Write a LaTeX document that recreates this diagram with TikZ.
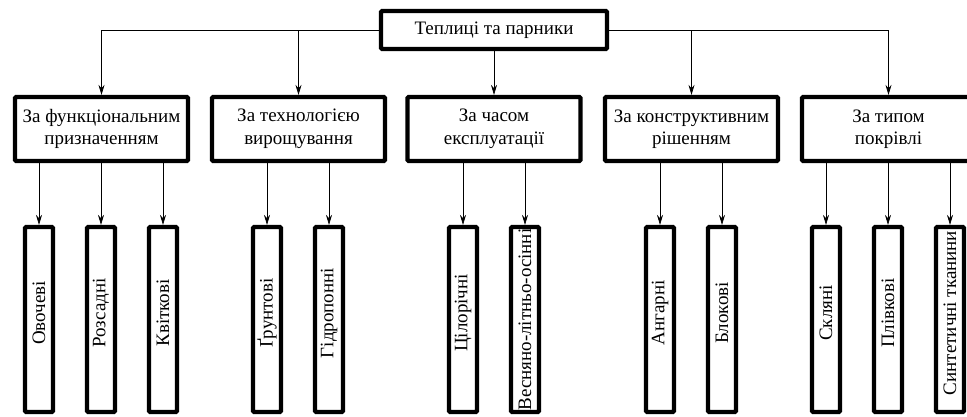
\documentclass[tikz,border=0pt]{standalone}
\usepackage{fontspec}
\setmainfont{Liberation Serif}
\usetikzlibrary{arrows.meta}
\newcommand\lifttxt[1]{\hspace*{13pt}#1}
\begin{document}
\begin{tikzpicture}[x=1pt,y=1pt,
  txt/.style={font=\fontsize{19}{22.5}\selectfont},
  topbox/.style={draw, line width=4.2pt, rounded corners=1pt, align=center, inner sep=0pt, minimum width=226pt, minimum height=38pt, txt},
  catbox/.style={draw, line width=4.2pt, rounded corners=1pt, align=center, inner sep=0pt, minimum width=173pt, minimum height=64pt, txt},
  leaf/.style={draw, line width=4.2pt, rounded corners=1pt, rotate=90, inner sep=0pt, minimum width=185pt, minimum height=28pt, txt},
  arr/.style={-{Stealth[length=10pt,width=6pt]}, line width=0.7pt}]
\useasboundingbox (0,0) rectangle (967,-416);
\clip (0,0) rectangle (967,-416);
\fill[white] (0,0) rectangle (967,-416);

\node[topbox] (top) at (494,-30) {Теплиці та парники};

\node[catbox] (c1) at (101.5,-129) {За функціональним\\призначенням};
\node[catbox] (c2) at (298.5,-129) {За технологією\\вирощування};
\node[catbox] (c3) at (494,-129) {За часом\\експлуатації};
\node[catbox] (c4) at (691.5,-129) {За конструктивним\\рішенням};
\node[catbox] (c5) at (888.5,-129) {За типом\\покрівлі};

\node[leaf] (l1) at (39,-319.5) {\lifttxt{Овочеві}};
\node[leaf] (l2) at (101,-319.5) {\lifttxt{Розсадні}};
\node[leaf] (l3) at (163,-319.5) {\lifttxt{Квіткові}};
\node[leaf] (l4) at (267,-319.5) {\lifttxt{Ґрунтові}};
\node[leaf] (l5) at (329,-319.5) {\lifttxt{Гідропонні}};
\node[leaf] (l6) at (463,-319.5) {\lifttxt{Цілорічні}};
\node[leaf] (l7) at (525,-319.5) {Весняно-літньо-осінні};
\node[leaf] (l8) at (660,-319.5) {\lifttxt{Ангарні}};
\node[leaf] (l9) at (722,-319.5) {\lifttxt{Блокові}};
\node[leaf] (l10) at (826,-319.5) {\lifttxt{Скляні}};
\node[leaf] (l11) at (888,-319.5) {\lifttxt{Плівкові}};
\node[leaf] (l12) at (950,-319.5) {\lifttxt{Синтетичні тканини}};

% top level connectors
\draw[arr] (top.west) -| (c1.north);
\draw[arr] (top.east) -| (c5.north);
\draw[arr] (top.west -| c2.north) -- (c2.north);
\draw[arr] (top.east -| c4.north) -- (c4.north);
\draw[arr] (top.south) -- (c3.north);

% leaf connectors
\foreach \c/\l in {c1/l1,c1/l2,c1/l3,c2/l4,c2/l5,c3/l6,c3/l7,c4/l8,c4/l9,c5/l10,c5/l11,c5/l12}
  \draw[arr] (\c.south -| \l) -- (\l);
\end{tikzpicture}
\end{document}
